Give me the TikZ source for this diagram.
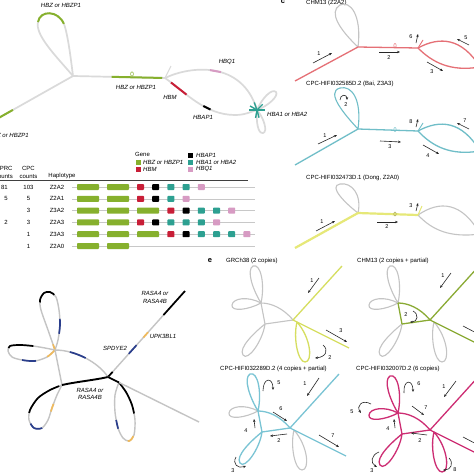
\documentclass[tikz,border=0pt]{standalone}
\usepackage{fontspec}
\setmainfont{Liberation Sans}
\usetikzlibrary{arrows.meta,calc}
\definecolor{lg}{RGB}{218,218,218}
\definecolor{mg}{RGB}{196,196,196}
\definecolor{hbz}{RGB}{134,176,45}
\definecolor{hbm}{RGB}{200,30,55}
\definecolor{hba}{RGB}{45,160,145}
\definecolor{hbq}{RGB}{215,155,195}
\definecolor{cred}{RGB}{229,112,118}
\definecolor{cteal}{RGB}{112,190,200}
\definecolor{cyel}{RGB}{230,232,120}
\definecolor{eyel}{RGB}{214,222,96}
\definecolor{egrn}{RGB}{138,170,52}
\definecolor{etel}{RGB}{122,196,212}
\definecolor{emag}{RGB}{205,45,115}
\definecolor{rblue}{RGB}{42,62,140}
\definecolor{rorg}{RGB}{240,186,92}
\definecolor{trk}{RGB}{200,200,200}
\newcommand\fs{\fontsize{6}{7}\selectfont}
\newcommand\fn{\fontsize{5.5}{6}\selectfont}
\newcommand\hgbox[2]{\fill[hbz,rounded corners=0.8pt] (#1,#2-3) rectangle ++(22,6);}
\newcommand\hsmbox[3]{\fill[#1,rounded corners=0.8pt] (#2,#3-3) rectangle ++(7,6);}
\newcommand\ulp{plot[smooth] coordinates {(rB) (48,330) (41,310) (40,300) (44,293) (50,292) (56,297) (59,310) (60,325) (58,340) (rB)}}
\newcommand\llp{plot[smooth] coordinates {(rB) (45,348) (33,346) (20,345) (10,346) (8,351) (12,357) (22,360) (35,361) (47,357) (rB)}}
\newcommand\clp{plot[smooth] coordinates {(rC) (50,390) (38,398) (30,410) (29,420) (34,428) (42,428) (48,420) (52,408) (57,395) (rC)}}
\newcommand\dlp{plot[smooth] coordinates {(rD) (126,392) (132,405) (135,420) (134,435) (129,441) (123,438) (118,428) (115,412) (115,395) (rD)}}
\newcommand\ablp{(rB) .. controls (75,350) and (98,362) .. (rA)}
\newcommand\egraph[1]{%
 \coordinate (#1N) at (0,0);
 \coordinate (#1P) at (-32,-17);
 \coordinate (#1Q) at (-28,4);
 \coordinate (#1E) at (49,-54);
 \coordinate (#1F) at (56,28);
 \coordinate (#1D) at (4,2);
 \draw[elpl] (#1P) .. controls (-45,-24) and (-60,-22) .. (-61,-15) .. controls (-62,-8) and (-45,-10) .. (#1P);
 \draw[elpu] (#1P) .. controls (-40,-30) and (-47,-50) .. (-40,-54) .. controls (-32,-57) and (-28,-35) .. (#1P);
 \draw[elql] (#1Q) .. controls (-38,12) and (-55,28) .. (-50,35) .. controls (-45,42) and (-30,20) .. (#1Q);
 \draw[elnl] (#1D) .. controls (0,18) and (5,42) .. (12,42) .. controls (20,42) and (18,18) .. (#1D);
 \draw[eltri] (#1N) .. controls (-10,-12) and (-22,-17) .. (#1P);
 \draw[eltri] (#1P) -- (#1Q);
 \draw[eltri] (#1Q) -- (#1N);
 \draw[elstem] (#1E) -- (#1N) -- (#1F);
}
\begin{document}
\begin{tikzpicture}[x=1pt,y=-1pt,
  ag/.style={draw=lg,line width=1.7pt},
  acol/.style={line width=2pt},
  lab/.style={inner sep=0pt,font=\fs},
  glab/.style={inner sep=0pt,font=\fs\itshape},
  nlab/.style={inner sep=0pt,font=\fn},
  arr/.style={-{Stealth[length=3pt,width=2.4pt]},line width=0.6pt,draw=black!85},
  cl/.style={line width=1.3pt},
  bg/.style={draw=mg,line width=1.4pt},
  bov/.style={line width=1.7pt},
  plet/.style={inner sep=0pt,font=\fontsize{7.5}{8}\selectfont\bfseries},
  eg/.style={draw=mg,line width=1.1pt},
]
\useasboundingbox (0,0) rectangle (474,474);
\clip (0,0) rectangle (474,474);
\fill[white] (0,0) rectangle (474,474);

%%%%%%%%%%%%%%%% panel a graph
\coordinate (aL) at (-5,120);
\coordinate (aJ1) at (73,76);
\coordinate (aJ2) at (165,78);
\coordinate (aT) at (257,110);
\coordinate (aG1) at (38,22);
\coordinate (aG2) at (64,24);
\draw[ag] (aL) -- (aJ1);
\draw[acol,hbz] (aL) -- ($(aL)!0.23!(aJ1)$);
\draw[ag] (aJ1) .. controls (55,55) and (35,35) .. (aG1);
\draw[acol,hbz] (aG1) .. controls (40,10) and (58,10) .. (aG2);
\draw[ag] (aG2) .. controls (68,35) and (71,60) .. (aJ1);
\draw[ag] (aJ1) -- (aJ2);
\draw[acol,hbz] ($(aJ1)!0.42!(aJ2)$) -- ($(aJ1)!0.97!(aJ2)$);
\draw[hbz,line width=0.5pt] (132,74) ellipse (1.4 and 2.2);
\draw[ag,line width=1pt] (aJ2) -- (171,66);
\draw[ag] (aJ2) .. controls (190,66) and (242,60) .. (aT);
\draw[acol,hbq] (210,70.1) -- (221,72.1);
\draw[ag] (aJ2) .. controls (185,92) and (205,115) .. (235,115) .. controls (245,115) and (250,112) .. (aT);
\draw[acol,hbm] (171,82.5) -- (186.5,94.6);
\draw[acol,black] (203.3,106) -- (210.5,109.6);
\draw[ag] (aT) .. controls (262,98) and (272,88) .. (276,92) .. controls (279,96) and (268,106) .. (aT);
\draw[ag] (aT) .. controls (256,122) and (258,134) .. (263,133) .. controls (268,132) and (264,118) .. (aT);
\foreach \an in {-110,-150,180,-45,0,75,100} \draw[hba,line width=1.4pt] (aT) -- +(\an:8);

\node[glab] (la1) at (61,5) {HBZ or HBZP1};
\node[glab] (la2) at (136,87) {HBZ or HBZP1};
\node[glab,anchor=east] (la3) at (29,135) {HBZ or HBZP1};
\node[glab] (la4) at (227,62) {HBQ1};
\node[glab] (la5) at (170,97) {HBM};
\node[glab] (la6) at (203,117) {HBAP1};
\node[glab,anchor=west] (la7) at (267,114) {HBA1 or HBA2};

%%%%%%%%%%%%%%%% legend + table
\node[lab,anchor=west] (lg0) at (135,154) {Gene};
\fill[hbz] (135.5,159.5) rectangle ++(5,5);
\fill[hbm] (135.5,166.5) rectangle ++(5,5);
\fill[black] (188,152.5) rectangle ++(5,5);
\fill[hba] (188,159.5) rectangle ++(5,5);
\fill[hbq] (188,166.5) rectangle ++(5,5);
\node[glab,anchor=west] (lg1) at (143,162) {HBZ or HBZP1};
\node[glab,anchor=west] (lg2) at (143,169) {HBM};
\node[glab,anchor=west] (lg3) at (196,155) {HBAP1};
\node[glab,anchor=west] (lg4) at (196,162) {HBA1 or HBA2};
\node[glab,anchor=west] (lg5) at (196,169) {HBQ1};

\node[lab] (th1) at (4,168) {HPRC};
\node[lab] (th2) at (4,176.5) {counts};
\node[lab] (th3) at (28.5,168) {CPC};
\node[lab] (th4) at (28.5,176.5) {counts};
\node[lab] (th5) at (62,175.5) {Haplotype};
\draw[black!75,line width=0.5pt] (0,180) -- (248,180);

\foreach \yy/\hp/\cp/\hap [count=\i] in {187/81/103/Z2A2, 198.8/5/5/Z2A1, 210.6//3/Z3A2, 222.4/2/3/Z2A3, 234.2//1/Z3A3, 246//1/Z2A0}{
  \draw[trk,line width=0.6pt] (72,\yy) -- (255,\yy);
  \node[lab,anchor=east] (hp\i) at (8,\yy) {\hp};
  \node[lab] (cp\i) at (28.5,\yy) {\cp};
  \node[lab] (hl\i) at (57,\yy) {\hap};
}
% row 1 Z2A2
\hgbox{77}{187}\hgbox{107}{187}
\hsmbox{hbm}{137}{187}\hsmbox{black}{152.2}{187}\hsmbox{hba}{167.4}{187}\hsmbox{hba}{182.6}{187}\hsmbox{hbq}{197.8}{187}
% row 2 Z2A1
\hgbox{77}{198.8}\hgbox{107}{198.8}
\hsmbox{hbm}{137}{198.8}\hsmbox{black}{152.2}{198.8}\hsmbox{hba}{167.4}{198.8}\hsmbox{hbq}{182.6}{198.8}
% row 3 Z3A2
\hgbox{77}{210.6}\hgbox{107}{210.6}\hgbox{137}{210.6}
\hsmbox{hbm}{167.4}{210.6}\hsmbox{black}{182.6}{210.6}\hsmbox{hba}{197.8}{210.6}\hsmbox{hba}{213}{210.6}\hsmbox{hbq}{228.2}{210.6}
% row 4 Z2A3
\hgbox{77}{222.4}\hgbox{107}{222.4}
\hsmbox{hbm}{137}{222.4}\hsmbox{black}{152.2}{222.4}\hsmbox{hba}{167.4}{222.4}\hsmbox{hba}{182.6}{222.4}\hsmbox{hba}{197.8}{222.4}\hsmbox{hbq}{213}{222.4}
% row 5 Z3A3
\hgbox{77}{234.2}\hgbox{107}{234.2}\hgbox{137}{234.2}
\hsmbox{hbm}{167.4}{234.2}\hsmbox{black}{182.6}{234.2}\hsmbox{hba}{197.8}{234.2}\hsmbox{hba}{213}{234.2}\hsmbox{hba}{228.2}{234.2}\hsmbox{hbq}{243.4}{234.2}
% row 6 Z2A0
\hgbox{77}{246}\hgbox{107}{246}

%%%%%%%%%%%%%%%% panel c
\node[plet] (pc) at (283,2) {c};
\node[lab,anchor=west] (tc1) at (306,3) {CHM13 (Z2A2)};
\node[lab,anchor=west] (tc2) at (306,84) {CPC-HIFI032585D.2 (Bai, Z3A3)};
\node[lab,anchor=west] (tc3) at (306,178) {CPC-HIFI032473D.1 (Dong, Z2A0)};
% red graph
\coordinate (c1s) at (295,81); \coordinate (c1n) at (358,47); \coordinate (c1j) at (418,48); \coordinate (c1e) at (480,67);
\draw[eg] (c1n) .. controls (340,30) and (328,12) .. (340,5) .. controls (350,0) and (362,15) .. (c1n);
\draw[cl,cred] (c1s) -- (c1n) -- (c1j);
\draw[cl,cred] (c1j) .. controls (440,36) and (462,38) .. (c1e);
\draw[cl,cred] (c1j) .. controls (432,62) and (450,72) .. (c1e);
\draw[cl,cred,line width=0.9pt] (c1j) -- (423,40);
\draw[cred,line width=0.5pt] (395,45.5) ellipse (1.2 and 2);
\draw[arr] (313,63) -- (332,53); \node[nlab] (c1a1) at (319,54) {1};
\draw[arr] (379,52) -- (400,52); \node[nlab] (c1a2) at (389,57.5) {2};
\draw[arr] (427,62) -- (443,71); \node[nlab] (c1a3) at (432,72) {3};
\draw[arr] (416,43) -- (418,34); \node[nlab] (c1a6) at (411,37) {6};
\draw[arr] (469,45) -- (457,39); \node[nlab] (c1a5) at (466,38) {5};
% teal graph
\coordinate (c2s) at (295,165); \coordinate (c2n) at (358,129); \coordinate (c2j) at (418,131); \coordinate (c2e) at (480,151);
\draw[cl,cteal,line width=1.1pt] (c2n) .. controls (345,115) and (325,92) .. (340,88) .. controls (352,85) and (362,100) .. (c2n);
\draw[cl,cteal] (c2s) -- (c2n) -- (c2j);
\draw[cl,cteal] (c2j) .. controls (440,119) and (462,121) .. (c2e);
\draw[cl,cteal] (c2j) .. controls (432,146) and (450,156) .. (c2e);
\draw[cl,cteal,line width=0.9pt] (c2j) -- (423,123);
\draw[cteal,line width=0.5pt] (395,129.5) ellipse (1.2 and 2);
\draw[arr] (340,100) .. controls (340,94) and (347,94) .. (347,100); \node[nlab] (c2a2) at (346,105) {2};
\draw[arr] (318,144) -- (337,135); \node[nlab] (c2a1) at (325,135.5) {1};
\draw[arr] (380,141) -- (401,142); \node[nlab] (c2a3) at (390,147) {3};
\draw[arr] (423,145) -- (439,154); \node[nlab] (c2a4) at (428,156) {4};
\draw[arr] (416,127) -- (418,119); \node[nlab] (c2a8) at (411,122) {8};
\draw[arr] (469,129) -- (457,123); \node[nlab] (c2a7) at (465,121) {7};
% yellow graph
\coordinate (c3s) at (295,248); \coordinate (c3n) at (358,213); \coordinate (c3j) at (418,215); \coordinate (c3e) at (480,234);
\draw[eg] (c3n) .. controls (345,203) and (328,186) .. (340,184) .. controls (352,182) and (362,195) .. (c3n);
\draw[eg] (c3j) .. controls (440,200) and (462,202) .. (c3e);
\draw[eg] (c3j) .. controls (432,230) and (450,238) .. (c3e);
\draw[cyel,line width=2.2pt] (c3s) -- (c3n) -- (c3j);
\draw[cyel,line width=1pt] (c3j) -- (422,206);
\draw[cyel!70!black,line width=0.5pt] (395,214) ellipse (1.2 and 2);
\draw[arr] (316,231) -- (335,221); \node[nlab] (c3a1) at (322,222) {1};
\draw[arr] (377,222) -- (398,222); \node[nlab] (c3a2) at (387,227) {2};
\draw[arr] (416,211) -- (418,203); \node[nlab] (c3a3) at (411,206) {3};

%%%%%%%%%%%%%%%% bottom-left RASA4 graph
\coordinate (rA) at (108,377);
\coordinate (rB) at (55,350);
\coordinate (rC) at (62,385);
\coordinate (rE) at (185,291);
\coordinate (rF) at (199,422);
\coordinate (rD) at ($(rA)!0.12!(rF)$);
\draw[bg] \ulp;
\draw[bov,black,dash pattern=on 0pt off 50pt on 22pt off 2000pt] \ulp;
\draw[bov,rblue,dash pattern=on 0pt off 97pt on 15pt off 2000pt] \ulp;
\draw[bov,rorg,dash pattern=on 6pt off 2000pt] \ulp;
\draw[bg] \llp;
\draw[bov,black,dash pattern=on 0pt off 22pt on 26pt off 2000pt] \llp;
\draw[bov,rblue,dash pattern=on 0pt off 69pt on 14pt off 2000pt] \llp;
\draw[bov,rorg,dash pattern=on 0pt off 95pt on 10pt off 2000pt] \llp;
\draw[bg] \clp;
\draw[bov,black,dash pattern=on 0pt off 3pt on 42pt off 2000pt] \clp;
\draw[bov,rblue,dash pattern=on 0pt off 56pt on 14pt off 2000pt] \clp;
\draw[bov,rorg,dash pattern=on 0pt off 89pt on 8pt off 2000pt] \clp;
\draw[bg] \dlp;
\draw[bov,black,dash pattern=on 35pt off 2000pt] \dlp;
\draw[bov,rorg,dash pattern=on 0pt off 58pt on 8pt off 2000pt] \dlp;
\draw[bov,rblue,dash pattern=on 0pt off 82pt on 9pt off 2000pt] \dlp;
\draw[bg] \ablp;
\draw[bov,rblue,dash pattern=on 0pt off 15pt on 17pt off 2000pt] \ablp;
\draw[bg] (rB) -- (rC);
\draw[bov,black,line width=1.9pt] (rA) .. controls (95,380) and (75,382) .. (rC);
\draw[bg] (rA) -- (rE);
\draw[bov,rblue] ($(rA)!0.27!(rE)$) -- ($(rA)!0.37!(rE)$);
\draw[bov,rorg] ($(rA)!0.46!(rE)$) -- ($(rA)!0.52!(rE)$);
\draw[bov,black] ($(rA)!0.72!(rE)$) -- (rE);
\draw[bov,black] (rA) -- ($(rA)!0.06!(rE)$);
\draw[bg] (rA) -- (rF);
\draw[bov,black] (rA) -- (rD);
\node[glab] (rl1) at (115,348) {SPDYE2};
\node[glab] (rl2) at (163,336) {UPK3BL1};
\node[glab] (rl3) at (155,293) {RASA4 or};
\node[glab] (rl4) at (155,301) {RASA4B};
\node[glab] (rl5) at (90,390) {RASA4 or};
\node[glab] (rl6) at (90,397.5) {RASA4B};

%%%%%%%%%%%%%%%% panel e
\node[plet] (pe) at (210,261) {e};
\node[lab,anchor=west] (te1) at (226,261) {GRCh38 (2 copies)};
\node[lab,anchor=west] (te2) at (357,261) {CHM13 (2 copies + partial)};
\node[lab,anchor=west] (te3) at (220,369) {CPC-HIFI032289D.2 (4 copies + partial)};
\node[lab,anchor=west] (te4) at (356,369) {CPC-HIFI032007D.2 (6 copies)};

\begin{scope}[shift={(293,320)},
  elpl/.style={eg}, elpu/.style={eg}, elql/.style={eg},
  elnl/.style={draw=eyel,line width=1.3pt}, eltri/.style={eg},
  elstem/.style={draw=eyel,line width=1.3pt}]
\egraph{g1}
\end{scope}
\draw[arr] (319,278) -- (308,293); \node[nlab] (e1a1) at (312,281) {1};
\draw[arr] (326,330) -- (347,342); \node[nlab] (e1a3) at (341,331) {3};
\draw[arr] (323,345) .. controls (329,350) and (326,357) .. (315,358); \node[nlab] (e1a2) at (330,358) {2};

\begin{scope}[shift={(430,320)},
  elpl/.style={eg}, elpu/.style={eg}, elql/.style={eg}, elnl/.style={eg},
  eltri/.style={draw=egrn,line width=1.3pt},
  elstem/.style={draw=egrn,line width=1.3pt}]
\egraph{g2}
\end{scope}
\draw[arr] (451,273) -- (440,288); \node[nlab] (e2a1) at (443,276) {1};
\draw[arr] (413,311) .. controls (419,314) and (418,322) .. (410,322); \node[nlab] (e2a2) at (406,315) {2};
\draw[arr] (463,326) -- (484,337);

\begin{scope}[shift={(290,428)},
  elpl/.style={eg}, elpu/.style={draw=etel,line width=1.3pt}, elql/.style={draw=etel,line width=1.3pt}, elnl/.style={eg},
  eltri/.style={draw=etel,line width=1.3pt},
  elstem/.style={draw=etel,line width=1.3pt}]
\egraph{g3}
\end{scope}
\draw[arr] (319,378) -- (307,396); \node[nlab] (e3a1) at (305,384) {1};
\draw[arr] (263,391) .. controls (263,377) and (273,377) .. (273,390); \node[nlab] (e3a5) at (279,383) {5};
\draw[arr] (273,412) -- (287,421); \node[nlab] (e3a6) at (281,409) {6};
\draw[arr] (255,428) -- (254,419); \node[nlab] (e3a4) at (246,431) {4};
\draw[arr] (287,434) -- (270,436); \node[nlab] (e3a2) at (279,441) {2};
\draw[arr] (319,435) -- (339,447); \node[nlab] (e3a7) at (333,436) {7};
\draw[arr] (236,457) .. controls (232,464) and (238,469) .. (246,466); \node[nlab] (e3a3) at (233,471) {3};

\begin{scope}[shift={(430,430)},
  elpl/.style={draw=emag,line width=1.3pt}, elpu/.style={draw=emag,line width=1.3pt}, elql/.style={draw=emag,line width=1.3pt}, elnl/.style={draw=emag,line width=1.3pt},
  eltri/.style={draw=emag,line width=1.3pt},
  elstem/.style={draw=emag,line width=1.3pt}]
\egraph{g4}
\end{scope}
\draw[arr] (456,381) -- (444,397); \node[nlab] (e4a1) at (444,387) {1};
\draw[arr] (404,393) .. controls (403,379) and (413,379) .. (413,392); \node[nlab] (e4a6) at (419,384) {6};
\draw[arr] (412,406) -- (424,415); \node[nlab] (e4a7) at (426,408) {7};
\draw[arr] (371,404) .. controls (362,399) and (356,406) .. (361,413); \node[nlab] (e4a5) at (352,412) {5};
\draw[arr] (395,428) -- (394,419); \node[nlab] (e4a4) at (388,429) {4};
\draw[arr] (427,435) -- (411,433); \node[nlab] (e4a2) at (420,441) {2};
\draw[arr] (379,452) .. controls (371,455) and (370,463) .. (377,467); \node[nlab] (e4a3) at (372,471) {3};
\draw[arr] (449,458) .. controls (454,463) and (451,470) .. (443,470); \node[nlab] (e4a8) at (455,470) {8};
\draw[arr] (463,437) -- (484,448); \node[nlab] (e4a5b) at (477,437) {5};
\end{tikzpicture}
\end{document}
